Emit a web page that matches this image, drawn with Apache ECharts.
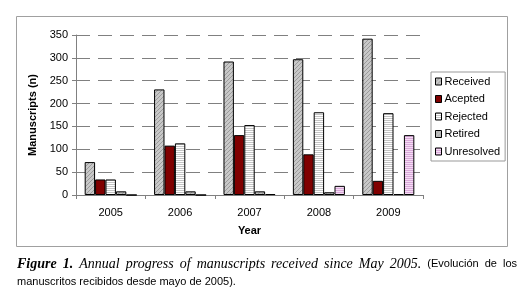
<!DOCTYPE html>
<html>
<head>
<meta charset="utf-8">
<script src="https://cdn.jsdelivr.net/npm/echarts@6/dist/echarts.min.js"></script>
<style>
  html, body { margin: 0; padding: 0; background: #fff; }
  #chart { width: 528px; height: 288px; }
</style>
</head>
<body>
<div id="chart"></div>
<script>
const years = ['2005', '2006', '2007', '2008', '2009'];
const received = [72, 231, 292, 297, 342];
const acepted = [34, 108, 131, 89, 31];
const rejected = [34, 113, 153, 181, 179];
const retired = [8, 8, 8, 6, 2];
const unresolved = [0, 0, 2, 20, 131];
const yTicks = [0, 50, 100, 150, 200, 250, 300, 350];

const SERIF = 'Liberation Serif, Times New Roman, serif';
const SANS = 'Liberation Sans, Arial, sans-serif';

// small canvas patterns to mimic the Excel fills
const makePattern = (base, line, kind) => {
  const c = document.createElement('canvas');
  c.width = 4; c.height = 4;
  const ctx = c.getContext('2d');
  ctx.fillStyle = base;
  ctx.fillRect(0, 0, 4, 4);
  ctx.fillStyle = line;
  if (kind === 'diag') {
    for (let i = 0; i < 4; i++) ctx.fillRect(i, 3 - i, 1, 1);
  } else {
    ctx.fillRect(0, 0, 4, 1);
    ctx.fillRect(0, 2, 4, 1);
  }
  return { image: c, repeat: 'repeat' };
};

// caption: first line is justified between x0 and x1
const captionWords = [
  ['Figure', 'italic bold 14px ' + SERIF],
  ['1.', 'italic bold 14px ' + SERIF],
  ['Annual', 'italic 14px ' + SERIF],
  ['progress', 'italic 14px ' + SERIF],
  ['of', 'italic 14px ' + SERIF],
  ['manuscripts', 'italic 14px ' + SERIF],
  ['received', 'italic 14px ' + SERIF],
  ['since', 'italic 14px ' + SERIF],
  ['May', 'italic 14px ' + SERIF],
  ['2005.', 'italic 14px ' + SERIF],
  ['(Evolución', '11px ' + SANS],
  ['de', '11px ' + SANS],
  ['los', '11px ' + SANS]
];
const justifyLine = (words, x0, x1, y) => {
  const ctx = document.createElement('canvas').getContext('2d');
  const widths = words.map(([t, f]) => { ctx.font = f; return ctx.measureText(t).width; });
  const total = widths.reduce((a, b) => a + b, 0);
  const gap = (x1 - x0 - total) / (words.length - 1);
  let x = x0;
  return words.map(([t, f], i) => {
    const el = {
      type: 'text', x: x, y: y, silent: true,
      style: { text: t, font: f, fill: '#000', verticalAlign: 'middle' }
    };
    x += widths[i] + gap;
    return el;
  });
};

const chart = echarts.init(document.getElementById('chart'));

const bar = (name, data, color) => ({
  name: name,
  type: 'bar',
  data: data,
  barGap: '0%',
  barCategoryGap: '25%',
  itemStyle: { color: color, borderColor: '#000', borderWidth: 1 }
});

chart.setOption({
  animation: false,
  textStyle: { fontFamily: SANS },
  grid: { left: 76, right: 105, top: 35, bottom: 93 },
  xAxis: {
    type: 'category',
    data: years,
    name: 'Year',
    nameLocation: 'middle',
    nameGap: 30,
    nameTextStyle: { fontWeight: 'bold', fontSize: 11, color: '#000' },
    axisLine: { lineStyle: { color: '#808080' } },
    axisTick: { show: true, length: 4, lineStyle: { color: '#808080' } },
    axisLabel: { color: '#000', fontSize: 11, margin: 12 }
  },
  yAxis: {
    type: 'value',
    min: 0,
    max: 350,
    interval: 50,
    name: 'Manuscripts (n)',
    nameLocation: 'middle',
    nameGap: 38,
    nameTextStyle: { fontWeight: 'bold', fontSize: 11, color: '#000' },
    axisLine: { show: true, lineStyle: { color: '#808080' } },
    axisTick: { show: true, length: 4, lineStyle: { color: '#808080' } },
    axisLabel: {
      color: '#000', fontSize: 11, margin: 8,
      formatter: v => yTicks.includes(v) ? String(v) : ''
    },
    splitLine: { lineStyle: { color: '#808080', type: [14, 8] } }
  },
  legend: {
    orient: 'vertical',
    left: 431,
    top: 72,
    padding: [4, 5, 4, 4],
    itemWidth: 6,
    itemHeight: 7,
    itemGap: 6.5,
    icon: 'rect',
    borderColor: '#999',
    borderWidth: 1,
    textStyle: { fontSize: 11, color: '#000', padding: [0, 0, 0, -2] },
    itemStyle: { borderColor: '#000', borderWidth: 1 }
  },
  graphic: [
    {
      type: 'rect',
      shape: { x: 16.5, y: 16.5, width: 491, height: 230 },
      style: { fill: 'none', stroke: '#a0a0a0', lineWidth: 1 },
      silent: true
    },
    ...justifyLine(captionWords, 17, 517, 264),
    {
      type: 'text', x: 17, y: 282, silent: true,
      style: {
        text: 'manuscritos recibidos desde mayo de 2005).',
        font: '11px ' + SANS,
        fill: '#000',
        verticalAlign: 'middle'
      }
    }
  ],
  series: [
    bar('Received', received, makePattern('#c8c8c8', '#9a9a9a', 'diag')),
    bar('Acepted', acepted, '#800000'),
    bar('Rejected', rejected, makePattern('#ffffff', '#c4c4c4', 'horiz')),
    bar('Retired', retired, makePattern('#c0c0c0', '#a0a0a0', 'diag')),
    bar('Unresolved', unresolved, makePattern('#f4dcf4', '#d8a8d8', 'horiz'))
  ]
});
</script>
</body>
</html>
